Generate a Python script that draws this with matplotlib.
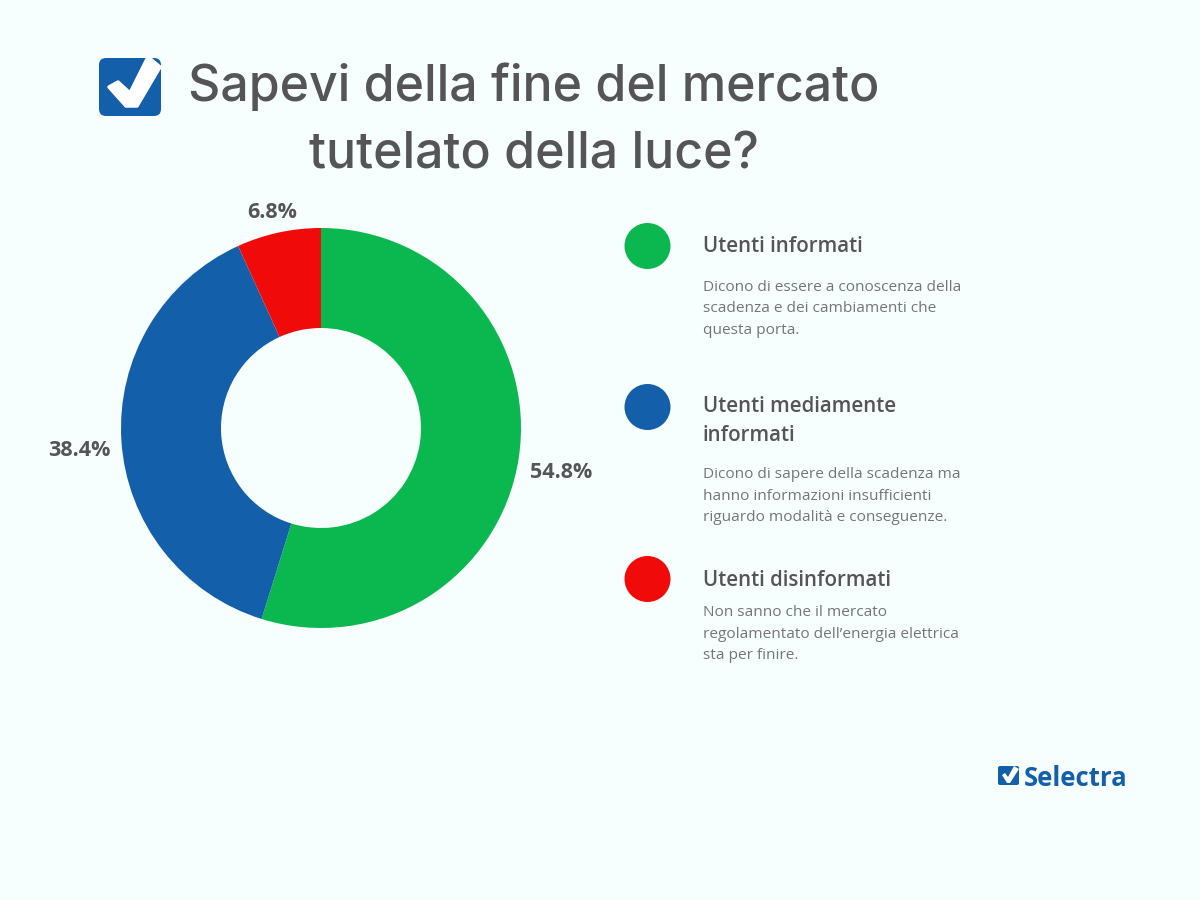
import matplotlib
matplotlib.use('Agg')
import matplotlib.pyplot as plt
from matplotlib.patches import Circle, FancyBboxPatch, Polygon

# values
labels = ['54.8%', '38.4%', '6.8%']
values = [54.8, 38.4, 6.8]
colors = ['#0bb84f', '#135fa9', '#f00a0a']
legend_titles = ['Utenti informati', 'Utenti mediamente\ninformati', 'Utenti disinformati']
legend_texts = [
    'Dicono di essere a conoscenza della\nscadenza e dei cambiamenti che\nquesta porta.',
    'Dicono di sapere della scadenza ma\nhanno informazioni insufficienti\nriguardo modalità e conseguenze.',
    'Non sanno che il mercato\nregolamentato dell’energia elettrica\nsta per finire.',
]
title_lines = ['Sapevi della fine del mercato', 'tutelato della luce?']

bg = '#f7fffe'
dark = '#555555'
blue = '#135fa9'

plt.rcParams['font.family'] = ['Open Sans', 'DejaVu Sans']

fig = plt.figure(figsize=(12, 9), dpi=100, facecolor=bg)

# overlay in pixel coordinates of the page
page = fig.add_axes([0, 0, 1, 1])
page.set_xlim(0, 1200)
page.set_ylim(900, 0)
page.axis('off')

# donut
R = 200
ax = fig.add_axes([(321 - R) / 1200, 1 - (428 + R) / 900, 2 * R / 1200, 2 * R / 900])
ax.pie(values, colors=colors, startangle=90, counterclock=False, radius=1,
       wedgeprops={'width': 0.5, 'linewidth': 0})
ax.set_xlim(-1, 1)
ax.set_ylim(-1, 1)

# percent labels
page.text(561, 472, labels[0], fontsize=15.5, fontweight='bold', color=dark, ha='center', va='center')
page.text(79, 450, labels[1], fontsize=15.5, fontweight='bold', color=dark, ha='center', va='center')
page.text(272, 212, labels[2], fontsize=15.5, fontweight='bold', color=dark, ha='center', va='center')

# title
title_font = ['Inter', 'DejaVu Sans']
page.text(534, 87, title_lines[0], fontsize=36, color=dark, ha='center', va='center', family=title_font, fontweight='medium')
page.text(534, 155, title_lines[1], fontsize=36, color=dark, ha='center', va='center', family=title_font, fontweight='medium')

# legend
dot_y = [246, 407, 579]
title_y = [247, 421, 580]
text_y = [309, 496, 634]
for i in range(3):
    page.add_patch(Circle((647.5, dot_y[i]), 23, color=colors[i], lw=0))
    page.text(703, title_y[i], legend_titles[i], fontsize=14.8, fontweight='semibold', color=dark,
              va='center', linespacing=1.5)
    page.text(703, text_y[i], legend_texts[i], fontsize=11.05, color='#757575', va='center', linespacing=1.56)

# check logo at the top
page.add_patch(FancyBboxPatch((99, 58), 62, 58, boxstyle='round,pad=0,rounding_size=7', fc=blue, ec='none'))
page.add_patch(Polygon([(109, 87), (118, 82), (130, 93), (148, 57), (160, 67), (137, 106), (126, 106)],
                       fc='white', ec='white', lw=2.5, joinstyle='round'))

# selectra logo
page.add_patch(FancyBboxPatch((998, 766), 21, 19, boxstyle='round,pad=0,rounding_size=2', fc=blue, ec='none'))
page.add_patch(Polygon([(1002, 775), (1005, 773), (1008, 777), (1014, 766), (1019, 769), (1010, 783), (1007, 783)], fc='white', ec='none'))
page.text(1024, 778, 'Selectra', fontsize=18.5, fontweight='bold', color=blue, va='center')

fig.savefig('out.png', dpi=100, facecolor=bg)
